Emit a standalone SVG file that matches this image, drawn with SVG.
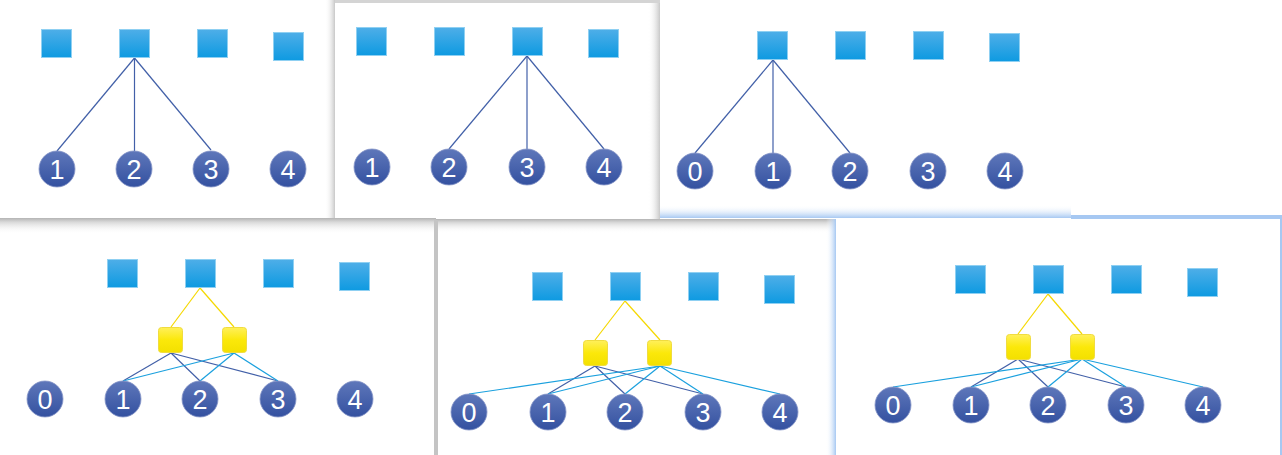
<svg xmlns="http://www.w3.org/2000/svg" width="1282" height="455" viewBox="0 0 1282 455">
<defs>
<linearGradient id="gSq" x1="0" y1="0" x2="0" y2="1"><stop offset="0" stop-color="#4eaee8"/><stop offset="1" stop-color="#0e9ae1"/></linearGradient>
<linearGradient id="gCi" x1="0" y1="0" x2="0" y2="1"><stop offset="0" stop-color="#5e77ba"/><stop offset="1" stop-color="#3451a0"/></linearGradient>
<linearGradient id="gYe" x1="0" y1="0" x2="0" y2="1"><stop offset="0" stop-color="#fff05a"/><stop offset="0.5" stop-color="#fbe80a"/><stop offset="1" stop-color="#f3e000"/></linearGradient>
<linearGradient id="shB" x1="0" y1="0" x2="0" y2="1"><stop offset="0" stop-color="#b4b4b4"/><stop offset="0.25" stop-color="#d8d8d8"/><stop offset="1" stop-color="#ffffff" stop-opacity="0"/></linearGradient>
<linearGradient id="shR" x1="0" y1="0" x2="1" y2="0"><stop offset="0" stop-color="#ffffff" stop-opacity="0"/><stop offset="1" stop-color="#c8c8c8"/></linearGradient>
<linearGradient id="blB" x1="0" y1="0" x2="0" y2="1"><stop offset="0" stop-color="#ffffff" stop-opacity="0"/><stop offset="1" stop-color="#a6c8f2"/></linearGradient>
<linearGradient id="blR" x1="0" y1="0" x2="1" y2="0"><stop offset="0" stop-color="#ffffff" stop-opacity="0"/><stop offset="1" stop-color="#a6c8f2"/></linearGradient>
</defs>
<style>
.sq{fill:url(#gSq);stroke:#8fd0f2;stroke-width:1}
.ci{fill:url(#gCi);stroke:#8696c8;stroke-width:0.8}
.ye{fill:url(#gYe);stroke:#f0dc40;stroke-width:1}
.t{font-family:"Liberation Sans",Arial,sans-serif;font-size:27px;fill:#ffffff;text-anchor:middle}
.ld{stroke:#4260a8;stroke-width:1.2;fill:none}
.ll{stroke:#1aa0de;stroke-width:1.2;fill:none}
.ly{stroke:#f5d800;stroke-width:1.2;fill:none}
</style>
<rect width="1282" height="455" fill="#ffffff"/>
<g id="frames">
<rect x="0" y="218" width="436" height="16" fill="url(#shB)"/>
<rect x="325" y="0" width="10" height="218" fill="url(#shR)"/>
<rect x="335" y="0" width="325" height="3" fill="#d4d4d4"/>
<rect x="436" y="219" width="400" height="14" fill="url(#shB)"/>
<rect x="648" y="3" width="12" height="216" fill="url(#shR)"/>
<rect x="660" y="205" width="411" height="13" fill="url(#blB)"/>
<rect x="1071" y="215" width="211" height="4" fill="#a6c8f2"/>
<rect x="434" y="220" width="4" height="235" fill="#c4c4c4"/>
<rect x="826" y="219" width="10" height="236" fill="url(#blR)"/>
<rect x="1280" y="217" width="2" height="238" fill="#a6c8f2"/>
</g>
<g id="connectors">
<line class="ld" x1="134.5" y1="58" x2="57" y2="151"/>
<line class="ld" x1="134.5" y1="58" x2="134.5" y2="151"/>
<line class="ld" x1="134.5" y1="58" x2="211" y2="150"/>
<line class="ld" x1="527" y1="56" x2="449" y2="149"/>
<line class="ld" x1="527" y1="56" x2="527" y2="149"/>
<line class="ld" x1="527" y1="56" x2="604" y2="149"/>
<line class="ld" x1="773" y1="60" x2="695" y2="153"/>
<line class="ld" x1="773" y1="60" x2="773" y2="153"/>
<line class="ld" x1="773" y1="60" x2="850" y2="153"/>
<line class="ly" x1="200" y1="288" x2="171" y2="327"/>
<line class="ly" x1="200" y1="288" x2="234" y2="327"/>
<line class="ld" x1="171" y1="353" x2="123" y2="381"/>
<line class="ld" x1="171" y1="353" x2="200" y2="381"/>
<line class="ld" x1="171" y1="353" x2="278" y2="381"/>
<line class="ll" x1="234" y1="353" x2="123" y2="381"/>
<line class="ll" x1="234" y1="353" x2="200" y2="381"/>
<line class="ll" x1="234" y1="353" x2="278" y2="381"/>
<line class="ly" x1="625" y1="301" x2="595" y2="340"/>
<line class="ly" x1="625" y1="301" x2="660" y2="340"/>
<line class="ld" x1="595" y1="366" x2="548" y2="394"/>
<line class="ld" x1="595" y1="366" x2="625" y2="394"/>
<line class="ld" x1="595" y1="366" x2="703" y2="394"/>
<line class="ll" x1="660" y1="366" x2="469" y2="394"/>
<line class="ll" x1="660" y1="366" x2="548" y2="394"/>
<line class="ll" x1="660" y1="366" x2="625" y2="394"/>
<line class="ll" x1="660" y1="366" x2="703" y2="394"/>
<line class="ll" x1="660" y1="366" x2="780" y2="394"/>
<line class="ly" x1="1048" y1="294" x2="1018" y2="334"/>
<line class="ly" x1="1048" y1="294" x2="1082" y2="334"/>
<line class="ld" x1="1018" y1="359" x2="971" y2="387"/>
<line class="ld" x1="1018" y1="359" x2="1048" y2="387"/>
<line class="ld" x1="1018" y1="359" x2="1126" y2="387"/>
<line class="ll" x1="1082" y1="359" x2="893" y2="387"/>
<line class="ll" x1="1082" y1="359" x2="971" y2="387"/>
<line class="ll" x1="1082" y1="359" x2="1048" y2="387"/>
<line class="ll" x1="1082" y1="359" x2="1126" y2="387"/>
<line class="ll" x1="1082" y1="359" x2="1203" y2="387"/>
</g>
<!-- Panel 1 -->
<g id="p1-s1"><rect class="sq" x="41.5" y="29.5" width="30" height="28"/></g>
<g id="p1-s2"><rect class="sq" x="119.5" y="29.5" width="30" height="28"/></g>
<g id="p1-s3"><rect class="sq" x="197.5" y="29.5" width="30" height="28"/></g>
<g id="p1-s4"><rect class="sq" x="273.5" y="32.5" width="30" height="28"/></g>
<g id="p1-c1"><circle class="ci" cx="57" cy="169" r="18"/><text class="t" x="57" y="179">1</text></g>
<g id="p1-c2"><circle class="ci" cx="134" cy="169" r="18"/><text class="t" x="134" y="179">2</text></g>
<g id="p1-c3"><circle class="ci" cx="211" cy="169" r="18"/><text class="t" x="211" y="179">3</text></g>
<g id="p1-c4"><circle class="ci" cx="288" cy="169" r="18"/><text class="t" x="288" y="179">4</text></g>
<!-- Panel 2 -->
<g id="p2-s1"><rect class="sq" x="356.5" y="27.5" width="30" height="28"/></g>
<g id="p2-s2"><rect class="sq" x="434.5" y="27.5" width="30" height="28"/></g>
<g id="p2-s3"><rect class="sq" x="512.5" y="27.5" width="30" height="28"/></g>
<g id="p2-s4"><rect class="sq" x="588.5" y="29.5" width="30" height="28"/></g>
<g id="p2-c1"><circle class="ci" cx="372" cy="167" r="18"/><text class="t" x="372" y="177">1</text></g>
<g id="p2-c2"><circle class="ci" cx="449" cy="167" r="18"/><text class="t" x="449" y="177">2</text></g>
<g id="p2-c3"><circle class="ci" cx="527" cy="167" r="18"/><text class="t" x="527" y="177">3</text></g>
<g id="p2-c4"><circle class="ci" cx="604" cy="167" r="18"/><text class="t" x="604" y="177">4</text></g>
<!-- Panel 3 -->
<g id="p3-s1"><rect class="sq" x="757.5" y="31.5" width="30" height="28"/></g>
<g id="p3-s2"><rect class="sq" x="835.5" y="31.5" width="30" height="28"/></g>
<g id="p3-s3"><rect class="sq" x="913.5" y="31.5" width="30" height="28"/></g>
<g id="p3-s4"><rect class="sq" x="989.5" y="33.5" width="30" height="28"/></g>
<g id="p3-c0"><circle class="ci" cx="695" cy="171" r="18"/><text class="t" x="695" y="181">0</text></g>
<g id="p3-c1"><circle class="ci" cx="773" cy="171" r="18"/><text class="t" x="773" y="181">1</text></g>
<g id="p3-c2"><circle class="ci" cx="850" cy="171" r="18"/><text class="t" x="850" y="181">2</text></g>
<g id="p3-c3"><circle class="ci" cx="928" cy="171" r="18"/><text class="t" x="928" y="181">3</text></g>
<g id="p3-c4"><circle class="ci" cx="1005" cy="171" r="18"/><text class="t" x="1005" y="181">4</text></g>
<!-- Panel 4 -->
<g id="p4-s1"><rect class="sq" x="107.5" y="259.5" width="30" height="28"/></g>
<g id="p4-s2"><rect class="sq" x="185.5" y="259.5" width="30" height="28"/></g>
<g id="p4-s3"><rect class="sq" x="263.5" y="259.5" width="30" height="28"/></g>
<g id="p4-s4"><rect class="sq" x="339.5" y="262.5" width="30" height="28"/></g>
<g id="p4-y1"><rect class="ye" x="158.5" y="327.5" width="24" height="25" rx="3"/></g>
<g id="p4-y2"><rect class="ye" x="222.5" y="327.5" width="24" height="25" rx="3"/></g>
<g id="p4-c0"><circle class="ci" cx="45" cy="399" r="18"/><text class="t" x="45" y="409">0</text></g>
<g id="p4-c1"><circle class="ci" cx="123" cy="399" r="18"/><text class="t" x="123" y="409">1</text></g>
<g id="p4-c2"><circle class="ci" cx="200" cy="399" r="18"/><text class="t" x="200" y="409">2</text></g>
<g id="p4-c3"><circle class="ci" cx="278" cy="399" r="18"/><text class="t" x="278" y="409">3</text></g>
<g id="p4-c4"><circle class="ci" cx="355" cy="399" r="18"/><text class="t" x="355" y="409">4</text></g>
<!-- Panel 5 -->
<g id="p5-s1"><rect class="sq" x="532.5" y="272.5" width="30" height="28"/></g>
<g id="p5-s2"><rect class="sq" x="610.5" y="272.5" width="30" height="28"/></g>
<g id="p5-s3"><rect class="sq" x="688.5" y="272.5" width="30" height="28"/></g>
<g id="p5-s4"><rect class="sq" x="764.5" y="275.5" width="30" height="28"/></g>
<g id="p5-y1"><rect class="ye" x="583.5" y="340.5" width="24" height="25" rx="3"/></g>
<g id="p5-y2"><rect class="ye" x="647.5" y="340.5" width="24" height="25" rx="3"/></g>
<g id="p5-c0"><circle class="ci" cx="469" cy="412" r="18"/><text class="t" x="469" y="422">0</text></g>
<g id="p5-c1"><circle class="ci" cx="548" cy="412" r="18"/><text class="t" x="548" y="422">1</text></g>
<g id="p5-c2"><circle class="ci" cx="625" cy="412" r="18"/><text class="t" x="625" y="422">2</text></g>
<g id="p5-c3"><circle class="ci" cx="703" cy="412" r="18"/><text class="t" x="703" y="422">3</text></g>
<g id="p5-c4"><circle class="ci" cx="780" cy="412" r="18"/><text class="t" x="780" y="422">4</text></g>
<!-- Panel 6 -->
<g id="p6-s1"><rect class="sq" x="955.5" y="265.5" width="30" height="28"/></g>
<g id="p6-s2"><rect class="sq" x="1033.5" y="265.5" width="30" height="28"/></g>
<g id="p6-s3"><rect class="sq" x="1111.5" y="265.5" width="30" height="28"/></g>
<g id="p6-s4"><rect class="sq" x="1187.5" y="268.5" width="30" height="28"/></g>
<g id="p6-y1"><rect class="ye" x="1006.5" y="334.5" width="24" height="25" rx="3"/></g>
<g id="p6-y2"><rect class="ye" x="1070.5" y="334.5" width="24" height="25" rx="3"/></g>
<g id="p6-c0"><circle class="ci" cx="893" cy="405" r="18"/><text class="t" x="893" y="415">0</text></g>
<g id="p6-c1"><circle class="ci" cx="971" cy="405" r="18"/><text class="t" x="971" y="415">1</text></g>
<g id="p6-c2"><circle class="ci" cx="1048" cy="405" r="18"/><text class="t" x="1048" y="415">2</text></g>
<g id="p6-c3"><circle class="ci" cx="1126" cy="405" r="18"/><text class="t" x="1126" y="415">3</text></g>
<g id="p6-c4"><circle class="ci" cx="1203" cy="405" r="18"/><text class="t" x="1203" y="415">4</text></g>
</svg>
